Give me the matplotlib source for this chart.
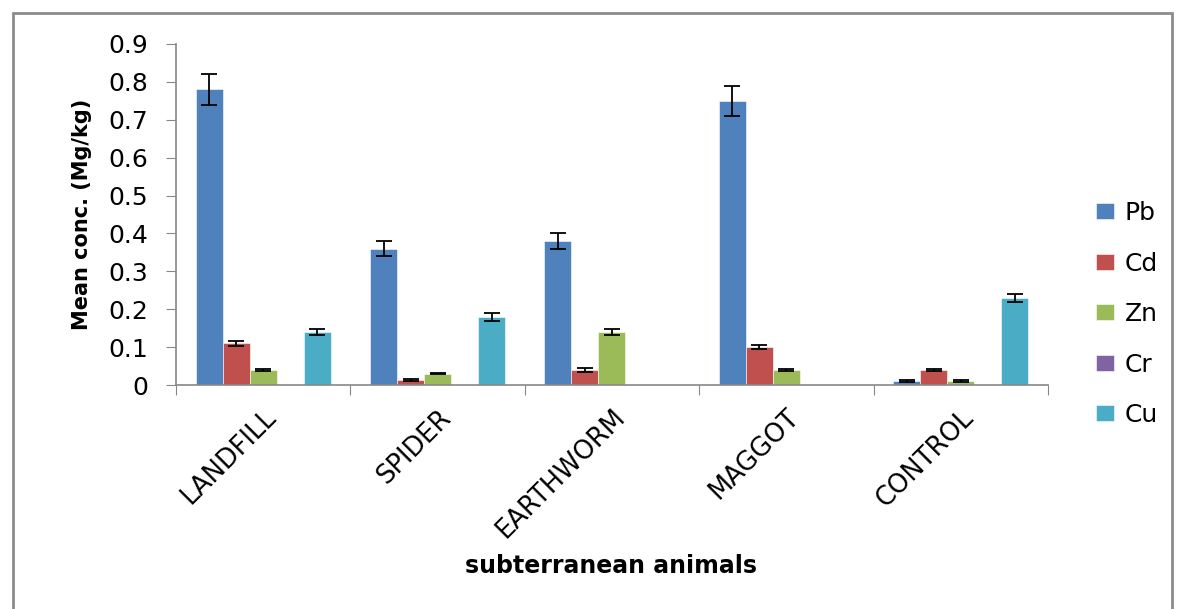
import numpy as np
import matplotlib
matplotlib.use("Agg")
import matplotlib.pyplot as plt
import matplotlib.transforms as mtransforms
from matplotlib.patches import Rectangle

plt.rcParams['font.family'] = ['DejaVu Sans']

animals = ['LANDFILL', 'SPIDER', 'EARTHWORM', 'MAGGOT', 'CONTROL']
metals = ['Pb', 'Cd', 'Zn', 'Cr', 'Cu']
colors = ['#4F81BD', '#C0504D', '#9BBB59', '#8064A2', '#4BACC6']

pb = [0.78, 0.36, 0.38, 0.75, 0.01]
cd = [0.11, 0.013, 0.04, 0.10, 0.04]
zn = [0.04, 0.03, 0.14, 0.04, 0.01]
cr = [0.0, 0.0, 0.0, 0.0, 0.0]
cu = [0.14, 0.18, 0.0, 0.0, 0.23]

pb_err = [0.04, 0.02, 0.02, 0.04, 0.002]
cd_err = [0.007, 0.002, 0.005, 0.005, 0.002]
zn_err = [0.002, 0.002, 0.007, 0.002, 0.002]
cr_err = [np.nan] * 5
cu_err = [0.008, 0.01, np.nan, np.nan, 0.01]

values = [pb, cd, zn, cr, cu]
errors = [pb_err, cd_err, zn_err, cr_err, cu_err]

fig = plt.figure(figsize=(11.78, 6.09), dpi=100)
ax = fig.add_axes([0.1494, 0.3678, 0.7402, 0.56])

x = np.arange(len(animals))
bw = 0.155
for i, (name, vals, errs, c) in enumerate(zip(metals, values, errors, colors)):
    pos = x + (i - 2) * bw
    ax.bar(pos, vals, bw, color=c, edgecolor='white', linewidth=0.4, label=name)
    e = np.array(errs, dtype=float)
    ok = ~np.isnan(e)
    ax.errorbar(pos[ok], np.array(vals)[ok], yerr=e[ok], fmt='none',
                ecolor='black', elinewidth=1.3, capsize=5.5, capthick=1.3)

ax.set_xlim(-0.5, 4.5)
ax.set_ylim(0, 0.9)
ax.set_yticks(np.arange(0, 0.91, 0.1))
ax.set_yticklabels(['0'] + ['%.1f' % v for v in np.arange(0.1, 0.91, 0.1)],
                   fontsize=18)
ax.set_xticks(np.arange(-0.5, 5, 1))
ax.set_xticklabels([])
ax.set_xticks(x, minor=True)
ax.set_xticklabels(animals, minor=True, rotation=45, ha='right',
                   rotation_mode='anchor', fontsize=18.5)
# nudge category labels a little to the left
shift = mtransforms.ScaledTranslation(-9 / 100, -2 / 100, fig.dpi_scale_trans)
for lab in ax.get_xticklabels(minor=True):
    lab.set_transform(lab.get_transform() + shift)
ax.tick_params(axis='x', which='minor', length=0, pad=14)
ax.tick_params(axis='x', which='major', length=7, color='#888888')
ax.tick_params(axis='y', length=7, color='#888888', pad=13)

for s in ['top', 'right']:
    ax.spines[s].set_visible(False)
for s in ['left', 'bottom']:
    ax.spines[s].set_color('#888888')
    ax.spines[s].set_linewidth(1.2)

ax.set_ylabel('Mean conc. (Mg/kg)', fontsize=15, fontweight='bold', labelpad=12)
fig.text(0.519, 0.07, 'subterranean animals', ha='center', va='center',
         fontsize=17, fontweight='bold')

ax.legend(loc='center left', bbox_to_anchor=(0.911, 0.4844),
          bbox_transform=fig.transFigure, frameon=False, fontsize=18,
          labelspacing=1.06, handlelength=0.75, handleheight=0.6,
          handletextpad=0.4)

fig.patches.append(Rectangle((0.011, -0.02), 0.984, 0.999,
                             transform=fig.transFigure, fill=False,
                             edgecolor='#8c8c8c', linewidth=2))

fig.savefig('out.png', dpi=100)
